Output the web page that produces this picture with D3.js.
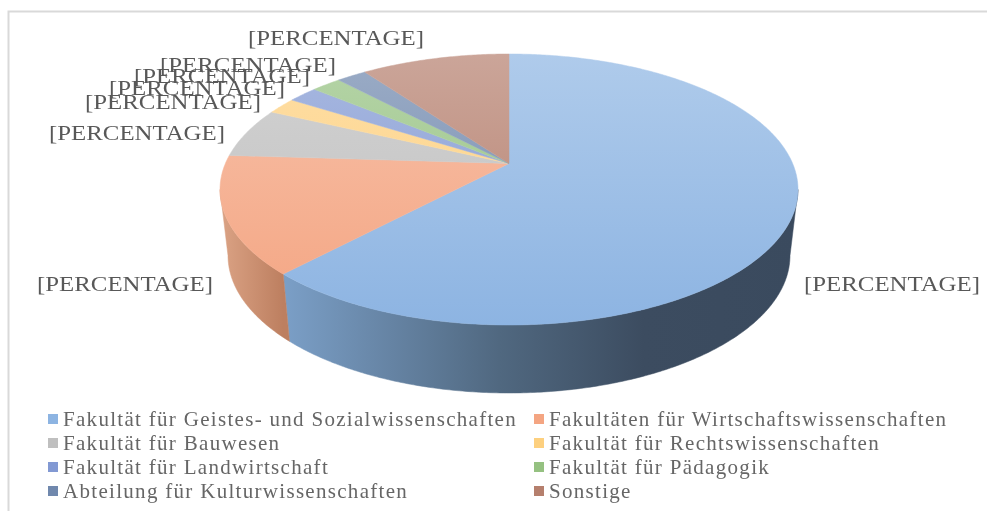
<!DOCTYPE html>
<html>
<head>
<meta charset="utf-8">
<script src="https://cdn.jsdelivr.net/npm/d3@7"></script>
<style>
  html, body { margin: 0; padding: 0; background: #fff; }
  svg { display: block; }
</style>
</head>
<body>
<div id="chart"></div>
<script>
// Data
const categories = [
  "Fakultät für Geistes- und Sozialwissenschaften",
  "Fakultäten für Wirtschaftswissenschaften",
  "Fakultät für Bauwesen",
  "Fakultät für Rechtswissenschaften",
  "Fakultät für Landwirtschaft",
  "Fakultät für Pädagogik",
  "Abteilung für Kulturwissenschaften",
  "Sonstige"
];
const shares = [62, 14, 6, 2, 2, 2, 2, 10];
const labelText = "[PERCENTAGE]";
const sliceColors = ["#8db4e2", "#f4a582", "#bfbfbf", "#fdd07f", "#8299d3", "#95c181", "#7088ad", "#b57f6d"];
const labelSpots = [
  [892, 283], [125, 283], [137, 132], [173, 101], [197, 87], [222, 75], [248, 64], [336, 37]
];

const width = 987, height = 511;

const svg = d3.select("#chart").append("svg")
  .attr("width", width)
  .attr("height", height);

const defs = svg.append("defs");
defs.append("filter").attr("id", "soft")
  .append("feGaussianBlur").attr("stdDeviation", 0.45);

// Chart frame, cut off by the right edge of the image
svg.append("path")
  .attr("d", "M8.5,511V11.5H987")
  .attr("fill", "none")
  .attr("stroke", "#d9d9d9")
  .attr("stroke-width", 2);

// Ellipse of the top face, and the one under it
const topFace = { x: d3.scaleLinear().domain([-1, 1]).range([220, 798]), y: d3.scaleLinear().domain([-1, 1]).range([54, 325]) };
const lowFace = { x: d3.scaleLinear().domain([-1, 1]).range([228, 790]), y: d3.scaleLinear().domain([-1, 1]).range([118, 393]) };

// Tilt: moves the disc centre to where the pie apex sits in the picture
const tilt = -0.192;
const tiltK = Math.sqrt(1 - tilt * tilt);
function rim(angle) {
  const px = Math.sin(angle), py = -Math.cos(angle);
  const den = 1 + tilt * py;
  return [px * tiltK / den, (py + tilt) / den];
}
const apex = [0, tilt];

const arcs = d3.pie().sort(null)(shares);
const line = d3.line();
const onFace = (e) => (p) => [e.x(p[0]), e.y(p[1])];

function rimPoints(a0, a1) {
  const n = Math.max(2, Math.ceil((a1 - a0) / 0.01));
  return d3.range(n + 1).map((i) => rim(a0 + (a1 - a0) * i / n));
}

// Side walls first, only where the rim faces the viewer
const sideShade = [
  [[0, "#7b9fc7"], [0.42, "#506880"], [0.7, "#3c4c60"], [1, "#3a4a5e"]],
  [[0, "#dba385"], [1, "#bd7f60"]]
];
const turn = Math.asin(-tilt);
const front = [Math.PI / 2 + turn, Math.PI * 3 / 2 - turn];
arcs.forEach((d, i) => {
  const a0 = Math.max(d.startAngle, front[0]);
  const a1 = Math.min(d.endAngle, front[1]);
  if (a1 <= a0) return;
  const pts = rimPoints(a0, a1);
  const xs = d3.extent(pts, (p) => topFace.x(p[0]));
  const g = defs.append("linearGradient")
    .attr("id", `side${i}`)
    .attr("gradientUnits", "userSpaceOnUse")
    .attr("x1", xs[0]).attr("x2", xs[1]).attr("y1", 0).attr("y2", 0);
  g.selectAll("stop")
    .data(sideShade[i])
    .join("stop")
    .attr("offset", (s) => s[0])
    .attr("stop-color", (s) => s[1]);
  const upper = pts.map(onFace(topFace));
  const lower = pts.map(onFace(lowFace)).reverse();
  svg.append("path")
    .attr("d", line(upper.concat(lower)) + "Z")
    .attr("fill", `url(#side${i})`)
    .attr("stroke", `url(#side${i})`)
    .attr("stroke-width", 0.5);
});

// Top face slices with a vertical gradient
arcs.forEach((d, i) => {
  const pts = rimPoints(d.startAngle, d.endAngle).map(onFace(topFace));
  const g = defs.append("linearGradient")
    .attr("id", `face${i}`)
    .attr("gradientUnits", "userSpaceOnUse")
    .attr("x1", 0).attr("x2", 0).attr("y1", 54).attr("y2", 325);
  g.append("stop").attr("offset", 0).attr("stop-color", d3.interpolateRgb(sliceColors[i], "#ffffff")(0.3));
  g.append("stop").attr("offset", 1).attr("stop-color", sliceColors[i]);
  svg.append("path")
    .attr("d", line([onFace(topFace)(apex)].concat(pts)) + "Z")
    .attr("fill", `url(#face${i})`)
    .attr("stroke", `url(#face${i})`)
    .attr("stroke-width", 0.5);
});

// Data labels, overlapping as they do in the original
svg.append("g").selectAll("text")
  .data(labelSpots)
  .join("text")
  .attr("x", (d) => d[0])
  .attr("y", (d) => d[1])
  .attr("dy", "0.35em")
  .attr("text-anchor", "middle")
  .attr("font-family", "Liberation Serif")
  .attr("font-size", 22)
  .attr("textLength", 176)
  .attr("lengthAdjust", "spacingAndGlyphs")
  .attr("fill", "#595959")
  .attr("filter", "url(#soft)")
  .text(labelText);

// Legend in two columns
const legendX = d3.scaleOrdinal().domain([0, 1]).range([48, 534]);
const legendY = d3.scalePoint().domain(d3.range(4)).range([419, 491]);
const legend = svg.append("g").selectAll("g")
  .data(categories)
  .join("g")
  .attr("transform", (d, i) => `translate(${legendX(i % 2)},${legendY(Math.floor(i / 2))})`);
legend.append("rect")
  .attr("x", 0).attr("y", -5)
  .attr("width", 10).attr("height", 10)
  .attr("fill", (d, i) => sliceColors[i]);
legend.append("text")
  .attr("x", 15)
  .attr("dy", "0.35em")
  .attr("font-family", "Liberation Serif")
  .attr("font-size", 21)
  .attr("letter-spacing", 1.3)
  .attr("fill", "#666666")
  .attr("filter", "url(#soft)")
  .text((d) => d);
</script>
</body>
</html>
